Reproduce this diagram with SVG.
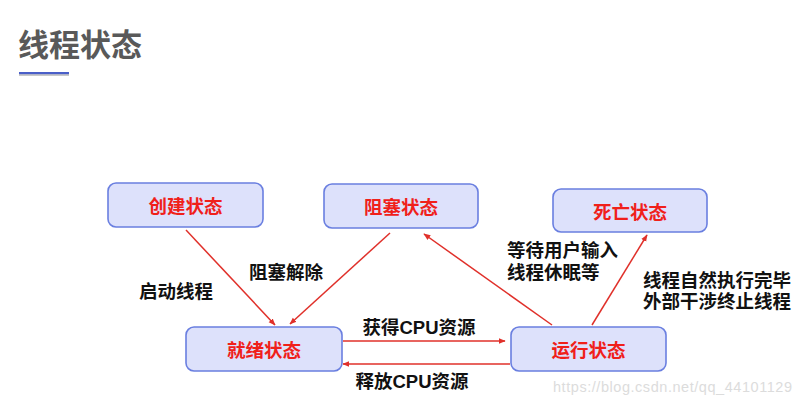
<svg xmlns="http://www.w3.org/2000/svg" width="806" height="407" viewBox="0 0 806 407">
<style>
.box{fill:#dde1fb;stroke:#6a7fe0;stroke-width:1.6}
.bt{font-family:"Noto Sans CJK SC","Liberation Sans",sans-serif;font-weight:bold;font-size:18.5px;fill:#f0201a;text-anchor:middle;dominant-baseline:central}
.lb{font-family:"Liberation Sans","Noto Sans CJK SC",sans-serif;font-weight:bold;font-size:18.5px;fill:#111}
.ar{stroke:#e0302a;stroke-width:1.5;fill:none;marker-end:url(#ah)}
</style>
<defs>
<marker id="ah" viewBox="0 0 10 10" refX="9" refY="5" markerWidth="7" markerHeight="7" orient="auto" markerUnits="userSpaceOnUse">
<path d="M0,1 L10,5 L0,9 z" fill="#e0302a"/>
</marker>
</defs>
<rect width="806" height="407" fill="#fff"/>
<g id="title">
<text x="18" y="42" font-family="Noto Sans CJK SC,Liberation Sans,sans-serif" font-weight="bold" font-size="31" fill="#595959" dominant-baseline="central">线程状态</text>
<rect x="19" y="74" width="50" height="2" fill="#c8c8c8"/>
<rect x="19" y="72" width="50" height="2.2" fill="#4a5fc8"/>
</g>
<g id="connectors">
<line class="ar" x1="186" y1="230" x2="275" y2="325"/>
<line class="ar" x1="390" y1="233" x2="290" y2="324"/>
<line class="ar" x1="552" y1="325" x2="424" y2="234"/>
<line class="ar" x1="592" y1="325" x2="647" y2="235"/>
<line class="ar" x1="343" y1="341" x2="505" y2="341"/>
<line class="ar" x1="510" y1="364" x2="343" y2="364"/>
<text class="lb" x="176" y="291" text-anchor="middle" dominant-baseline="central">启动线程</text>
<text class="lb" x="286" y="272" text-anchor="middle" dominant-baseline="central">阻塞解除</text>
<text class="lb" x="419" y="327" text-anchor="middle" dominant-baseline="central">获得CPU资源</text>
<text class="lb" x="412" y="381" text-anchor="middle" dominant-baseline="central">释放CPU资源</text>
<text class="lb" x="507" y="250" dominant-baseline="central">等待用户输入</text>
<text class="lb" x="507" y="272" dominant-baseline="central">线程休眠等</text>
<text class="lb" x="643" y="280" dominant-baseline="central">线程自然执行完毕</text>
<text class="lb" x="643" y="301" dominant-baseline="central">外部干涉终止线程</text>
</g>
<g id="create">
<rect class="box" x="108" y="183" width="155" height="44" rx="8"/>
<text class="bt" x="185.5" y="205">创建状态</text>
</g>
<g id="blocked">
<rect class="box" x="324" y="184" width="154" height="44" rx="8"/>
<text class="bt" x="401" y="206">阻塞状态</text>
</g>
<g id="dead">
<rect class="box" x="553" y="189" width="154" height="43" rx="8"/>
<text class="bt" x="630" y="210.5">死亡状态</text>
</g>
<g id="ready">
<rect class="box" x="186" y="327" width="156" height="44" rx="8"/>
<text class="bt" x="264" y="349">就绪状态</text>
</g>
<g id="running">
<rect class="box" x="511" y="327" width="155" height="44" rx="8"/>
<text class="bt" x="588.5" y="349">运行状态</text>
</g>
<text x="553" y="387" font-family="Liberation Sans,Arial,sans-serif" font-size="14.5" fill="#dcdcdc" dominant-baseline="central" textLength="239">https://blog.csdn.net/qq_44101129</text>
</svg>
